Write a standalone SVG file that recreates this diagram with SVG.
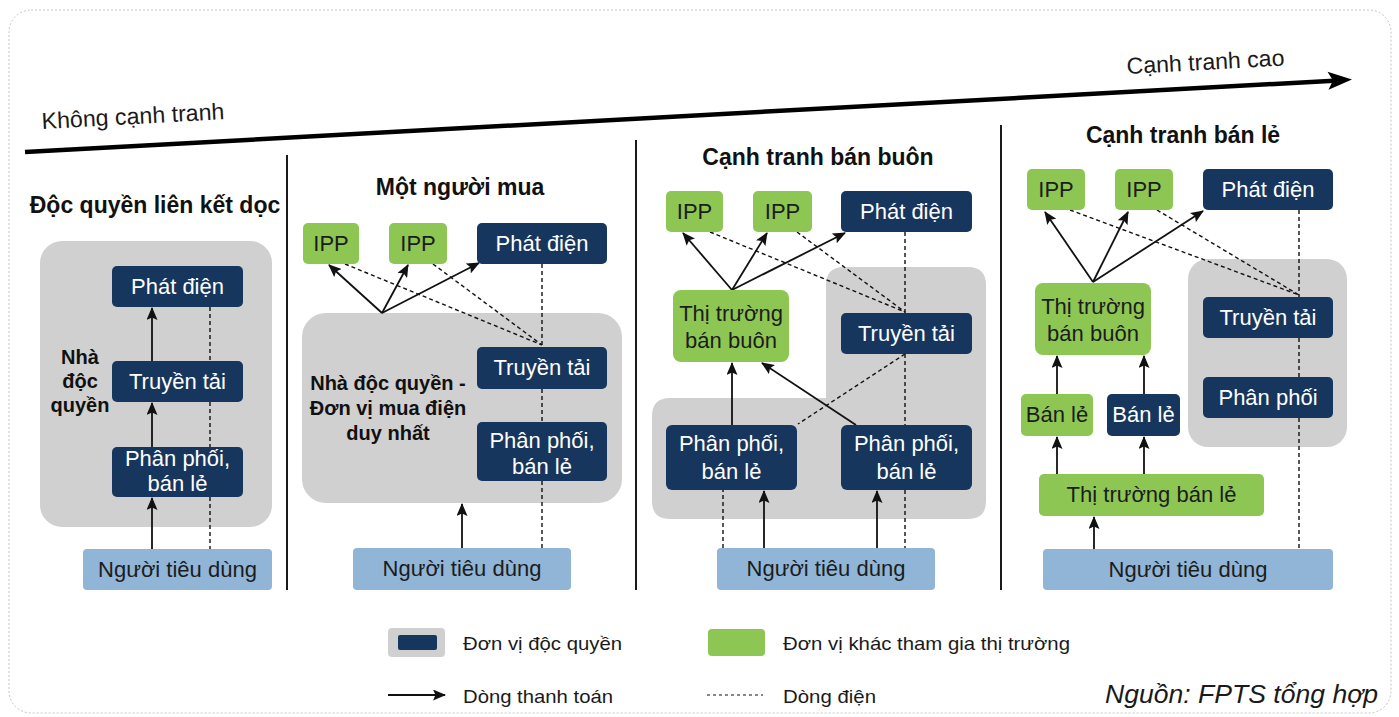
<svg xmlns="http://www.w3.org/2000/svg" width="1399" height="717" viewBox="0 0 1399 717">
  <defs>
    <marker id="arr" markerUnits="userSpaceOnUse" markerWidth="13" markerHeight="11" refX="12" refY="5.5" orient="auto">
      <path d="M0,0 L13,5.5 L0,11 L2.5,5.5 Z" fill="#111"/>
    </marker>
    <style>
      .frame{fill:none;stroke:#c4c4c4;stroke-width:1;stroke-dasharray:2 2}
      .sep{stroke:#1a1a1a;stroke-width:2}
      .box{fill:#d0d0d0}
      .nv{fill:#17365d}
      .gn{fill:#8dc653}
      .cs{fill:#90b5d7}
      .pay{fill:none;stroke:#111;stroke-width:1.8;marker-end:url(#arr)}
      .pwr{fill:none;stroke:#111;stroke-width:1.4;stroke-dasharray:4 3}
      .t{font-family:"Liberation Sans",Arial,sans-serif;font-size:22px;text-anchor:middle}
      .tw{fill:#ffffff}
      .tk{fill:#1c1c1c}
      .h{font-family:"Liberation Sans",Arial,sans-serif;font-size:23px;font-weight:bold;fill:#111;text-anchor:middle}
      .lb{font-family:"Liberation Sans",Arial,sans-serif;font-size:20px;font-weight:bold;fill:#111;text-anchor:middle}
      .n{font-family:"Liberation Sans Narrow","Liberation Sans",Arial,sans-serif;fill:#1a1a1a}
    </style>
  </defs>

  <rect class="frame" x="9" y="10" width="1382" height="703" rx="22"/>

  <!-- competition axis -->
  <g id="axis">
    <line x1="25" y1="152" x2="1334" y2="80.7" stroke="#000" stroke-width="4.5"/>
    <path d="M1352,79.6 L1327.5,71.8 L1333,80.6 L1328.5,89.8 Z" fill="#000"/>
    <text class="n" x="42" y="129" font-size="23" textLength="183" lengthAdjust="spacingAndGlyphs" transform="rotate(-3.1 42 129)">Không cạnh tranh</text>
    <text class="n" x="1127" y="74" font-size="23" textLength="158" lengthAdjust="spacingAndGlyphs" transform="rotate(-3.1 1127 74)">Cạnh tranh cao</text>
  </g>

  <!-- panel separators -->
  <g id="separators">
    <line class="sep" x1="287" y1="155" x2="287" y2="590"/>
    <line class="sep" x1="636" y1="140" x2="636" y2="590"/>
    <line class="sep" x1="1001" y1="125" x2="1001" y2="590"/>
  </g>

  <!-- panel titles -->
  <g id="titles">
    <text class="h" x="155" y="213">Độc quyền liên kết dọc</text>
    <text class="h" x="460" y="195">Một người mua</text>
    <text class="h" x="818" y="165">Cạnh tranh bán buôn</text>
    <text class="h" x="1183" y="143">Cạnh tranh bán lẻ</text>
  </g>

  <!-- monopoly groupings (grey containers) -->
  <g id="containers">
    <g id="p1-monopoly">
      <rect class="box" x="40" y="241" width="232" height="286" rx="22"/>
      <text class="lb" x="80" y="364">Nhà</text>
      <text class="lb" x="80" y="388">độc</text>
      <text class="lb" x="80" y="412">quyền</text>
    </g>
    <g id="p2-monopoly">
      <rect class="box" x="302" y="313" width="320" height="190" rx="24"/>
      <text class="lb" x="388" y="390">Nhà độc quyền -</text>
      <text class="lb" x="388" y="415">Đơn vị mua điện</text>
      <text class="lb" x="388" y="440">duy nhất</text>
    </g>
    <g id="p3-monopoly">
      <path class="box" d="M844,267 H968 Q986,267 986,285 V501 Q986,519 968,519 H670 Q652,519 652,501 V416 Q652,398 670,398 H826 V285 Q826,267 844,267 Z"/>
    </g>
    <g id="p4-monopoly">
      <rect class="box" x="1188" y="259" width="159" height="188" rx="20"/>
    </g>
  </g>

  <!-- payment (solid) and power (dashed) flows -->
  <g id="connectors">
    <!-- panel 1 -->
    <path class="pay" d="M152,549 V498"/>
    <path class="pay" d="M152,447 V403"/>
    <path class="pay" d="M152,361 V308"/>
    <path class="pwr" d="M210,307 V361 M210,402 V447 M210,497 V549"/>

    <!-- panel 2 -->
    <path class="pay" d="M382,313 L329,265"/>
    <path class="pay" d="M382,313 L408,265"/>
    <path class="pay" d="M382,313 L479,263"/>
    <path class="pwr" d="M345,264 L542,345 M433,264 L542,345"/>
    <path class="pwr" d="M542,264 V347 M542,389 V422 M542,481 V548"/>
    <path class="pay" d="M462,548 V504"/>

    <!-- panel 3 -->
    <path class="pay" d="M732,290 L683,233"/>
    <path class="pay" d="M732,290 L767,233"/>
    <path class="pay" d="M732,290 L845,233"/>
    <path class="pwr" d="M710,232 L905,312 M797,232 L905,312"/>
    <path class="pwr" d="M905,232 V313 M905,354 V425 M905,490 V548"/>
    <path class="pwr" d="M905,354 L798,424"/>
    <path class="pay" d="M732,425 V363"/>
    <path class="pay" d="M856,425 L762,363"/>
    <path class="pwr" d="M723,548 V490"/>
    <path class="pay" d="M764,548 V491"/>
    <path class="pay" d="M877,548 V491"/>

    <!-- panel 4 -->
    <path class="pay" d="M1093,282 L1045,212"/>
    <path class="pay" d="M1093,282 L1128,212"/>
    <path class="pay" d="M1093,282 L1203,211"/>
    <path class="pwr" d="M1070,210 L1299,295 M1157,210 L1299,295"/>
    <path class="pwr" d="M1299,210 V297 M1299,338 V377 M1299,418 V549"/>
    <path class="pay" d="M1057,394 V356"/>
    <path class="pay" d="M1144,394 V356"/>
    <path class="pay" d="M1057,474 V437"/>
    <path class="pay" d="M1144,474 V437"/>
    <path class="pay" d="M1094,549 V517"/>
  </g>

  <!-- panel 1: vertically integrated monopoly -->
  <g id="p1-gen"><rect class="nv" x="112" y="266" width="131" height="41" rx="5"/><text class="t tw" x="177.5" y="294">Phát điện</text></g>
  <g id="p1-trans"><rect class="nv" x="112" y="361" width="131" height="41" rx="5"/><text class="t tw" x="177.5" y="389">Truyền tải</text></g>
  <g id="p1-dist"><rect class="nv" x="112" y="447" width="131" height="50" rx="5"/><text class="t tw" x="177.5" y="466">Phân phối,</text><text class="t tw" x="177.5" y="491">bán lẻ</text></g>
  <g id="p1-cons"><rect class="cs" x="83" y="549" width="189" height="41" rx="4"/><text class="t tk" x="177.5" y="577">Người tiêu dùng</text></g>

  <!-- panel 2: single buyer -->
  <g id="p2-ipp1"><rect class="gn" x="303" y="223" width="56" height="41" rx="5"/><text class="t tk" x="331" y="251">IPP</text></g>
  <g id="p2-ipp2"><rect class="gn" x="389" y="223" width="58" height="41" rx="5"/><text class="t tk" x="418" y="251">IPP</text></g>
  <g id="p2-gen"><rect class="nv" x="477" y="223" width="130" height="41" rx="5"/><text class="t tw" x="542" y="251">Phát điện</text></g>
  <g id="p2-trans"><rect class="nv" x="477" y="347" width="130" height="42" rx="5"/><text class="t tw" x="542" y="375">Truyền tải</text></g>
  <g id="p2-dist"><rect class="nv" x="477" y="422" width="130" height="59" rx="5"/><text class="t tw" x="542" y="448">Phân phối,</text><text class="t tw" x="542" y="474">bán lẻ</text></g>
  <g id="p2-cons"><rect class="cs" x="353" y="548" width="218" height="42" rx="4"/><text class="t tk" x="462" y="576">Người tiêu dùng</text></g>

  <!-- panel 3: wholesale competition -->
  <g id="p3-ipp1"><rect class="gn" x="666" y="191" width="57" height="41" rx="5"/><text class="t tk" x="694.5" y="219">IPP</text></g>
  <g id="p3-ipp2"><rect class="gn" x="753" y="191" width="59" height="41" rx="5"/><text class="t tk" x="782.5" y="219">IPP</text></g>
  <g id="p3-gen"><rect class="nv" x="841" y="191" width="131" height="41" rx="5"/><text class="t tw" x="906.5" y="219">Phát điện</text></g>
  <g id="p3-wholesale"><rect class="gn" x="673" y="290" width="116" height="72" rx="8"/><text class="t tk" x="731" y="321">Thị trường</text><text class="t tk" x="731" y="348">bán buôn</text></g>
  <g id="p3-trans"><rect class="nv" x="841" y="313" width="131" height="41" rx="5"/><text class="t tw" x="906.5" y="341">Truyền tải</text></g>
  <g id="p3-dist1"><rect class="nv" x="666" y="425" width="131" height="65" rx="6"/><text class="t tw" x="731.5" y="451">Phân phối,</text><text class="t tw" x="731.5" y="479">bán lẻ</text></g>
  <g id="p3-dist2"><rect class="nv" x="841" y="425" width="131" height="65" rx="6"/><text class="t tw" x="906.5" y="451">Phân phối,</text><text class="t tw" x="906.5" y="479">bán lẻ</text></g>
  <g id="p3-cons"><rect class="cs" x="717" y="548" width="218" height="42" rx="4"/><text class="t tk" x="826" y="576">Người tiêu dùng</text></g>

  <!-- panel 4: retail competition -->
  <g id="p4-ipp1"><rect class="gn" x="1027" y="169" width="58" height="41" rx="5"/><text class="t tk" x="1056" y="197">IPP</text></g>
  <g id="p4-ipp2"><rect class="gn" x="1115" y="169" width="58" height="41" rx="5"/><text class="t tk" x="1144" y="197">IPP</text></g>
  <g id="p4-gen"><rect class="nv" x="1203" y="169" width="130" height="41" rx="5"/><text class="t tw" x="1268" y="197">Phát điện</text></g>
  <g id="p4-wholesale"><rect class="gn" x="1035" y="283" width="116" height="72" rx="8"/><text class="t tk" x="1093" y="314">Thị trường</text><text class="t tk" x="1093" y="341">bán buôn</text></g>
  <g id="p4-trans"><rect class="nv" x="1203" y="297" width="130" height="41" rx="5"/><text class="t tw" x="1268" y="325">Truyền tải</text></g>
  <g id="p4-dist"><rect class="nv" x="1203" y="377" width="130" height="41" rx="5"/><text class="t tw" x="1268" y="405">Phân phối</text></g>
  <g id="p4-retail1"><rect class="gn" x="1021" y="394" width="72" height="42" rx="5"/><text class="t tk" x="1057" y="422">Bán lẻ</text></g>
  <g id="p4-retail2"><rect class="nv" x="1107" y="394" width="73" height="42" rx="5"/><text class="t tw" x="1143.5" y="422">Bán lẻ</text></g>
  <g id="p4-retailmkt"><rect class="gn" x="1039" y="474" width="225" height="42" rx="5"/><text class="t tk" x="1151.5" y="502">Thị trường bán lẻ</text></g>
  <g id="p4-cons"><rect class="cs" x="1043" y="549" width="290" height="41" rx="4"/><text class="t tk" x="1188" y="577">Người tiêu dùng</text></g>

  <!-- legend -->
  <g id="legend">
    <rect class="box" x="388" y="628" width="57" height="29" rx="4"/>
    <rect class="nv" x="398" y="635" width="39" height="15" rx="2"/>
    <text class="n" x="463" y="650" font-size="19" textLength="159" lengthAdjust="spacingAndGlyphs">Đơn vị độc quyền</text>
    <rect class="gn" x="708" y="629" width="57" height="27" rx="4"/>
    <text class="n" x="783" y="650" font-size="19" textLength="287" lengthAdjust="spacingAndGlyphs">Đơn vị khác tham gia thị trường</text>
    <path class="pay" d="M388,695 H445"/>
    <text class="n" x="463" y="703" font-size="19" textLength="150" lengthAdjust="spacingAndGlyphs">Dòng thanh toán</text>
    <path d="M707,695 H763" fill="none" stroke="#111" stroke-width="1.2" stroke-dasharray="3 3"/>
    <text class="n" x="783" y="703" font-size="19" textLength="93" lengthAdjust="spacingAndGlyphs">Dòng điện</text>
    <text class="n" x="1105" y="703" font-size="26" font-style="italic" textLength="273" lengthAdjust="spacingAndGlyphs">Nguồn: FPTS tổng hợp</text>
  </g>
</svg>
